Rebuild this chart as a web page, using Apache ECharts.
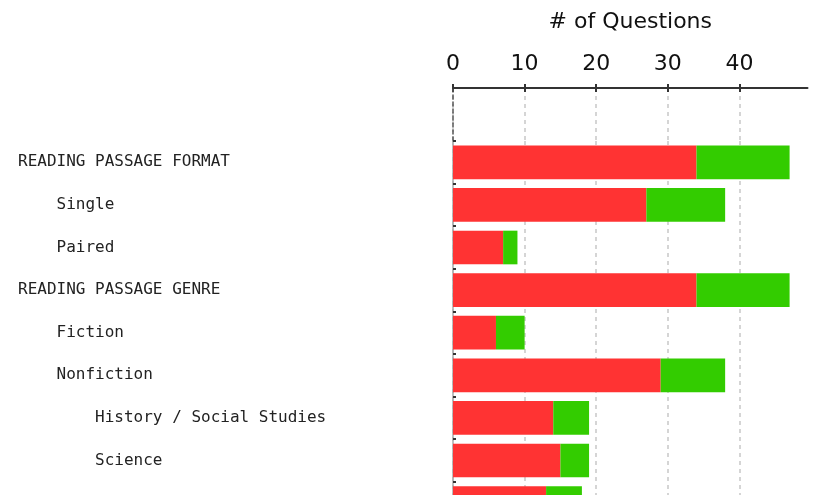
<!DOCTYPE html>
<html><head><meta charset="utf-8">
<script src="https://cdn.jsdelivr.net/npm/echarts@6/dist/echarts.min.js"></script>
<style>html,body{margin:0;padding:0;overflow:hidden;background:#fff}#c{width:821px;height:530px}</style>
</head><body><div id="c"></div>
<script>
const categories = ['READING PASSAGE FORMAT', '    Single', '    Paired', 'READING PASSAGE GENRE', '    Fiction', '    Nonfiction', '        History / Social Studies', '        Science', '        Humanities'];
const redValues = [34, 27, 7, 34, 6, 29, 14, 15, 13];
const greenValues = [13, 11, 2, 13, 4, 9, 5, 4, 5];
const xTicks = [0, 10, 20, 30, 40];
const axisMax = 49.5;
const axisTitle = '# of Questions';

const chart = echarts.init(document.getElementById('c'), null, {renderer: 'canvas'});
const splitStyle = {color: '#c8c8c8', type: [4, 4], width: 1.5};
chart.setOption({
  animation: false,
  grid: [
    {left: 453, right: 13.5, top: 88, height: 53},
    {left: 453, right: 13.5, top: 141, height: 383.4},
    {left: 453, right: 13.5, top: 84, height: 8}
  ],
  xAxis: [
    {
      gridIndex: 0, type: 'value', position: 'top', min: 0, max: axisMax, interval: 10,
      name: axisTitle, nameLocation: 'middle', nameGap: 55,
      nameTextStyle: {fontFamily: 'DejaVu Sans', fontSize: 22, color: '#111'},
      axisLine: {show: true, lineStyle: {color: '#333', width: 2}},
      axisTick: {show: false},
      axisLabel: {customValues: xTicks, margin: 13, fontFamily: 'DejaVu Sans', fontSize: 22, color: '#111'},
      splitLine: {show: true, showMaxLine: false, lineStyle: splitStyle}
    },
    {
      gridIndex: 1, type: 'value', position: 'top', min: 0, max: axisMax, interval: 10,
      axisLine: {show: false}, axisTick: {show: false}, axisLabel: {show: false},
      splitLine: {show: true, showMaxLine: false, lineStyle: splitStyle}
    },
    {
      gridIndex: 2, type: 'value', position: 'top', min: 0, max: axisMax, interval: 10,
      axisLine: {show: false}, axisTick: {show: false}, axisLabel: {show: false},
      splitLine: {show: true, showMaxLine: false, lineStyle: {color: '#333', width: 2}}
    }
  ],
  yAxis: [
    {
      gridIndex: 0, type: 'category', data: [''], inverse: true,
      axisLine: {show: true, lineStyle: {color: '#555', type: [4, 3], width: 1.5}},
      axisTick: {show: false}, axisLabel: {show: false}, splitLine: {show: false}
    },
    {
      gridIndex: 1, type: 'category', data: categories, inverse: true,
      axisLine: {show: true, lineStyle: {color: '#aaa', width: 1.5}},
      axisTick: {show: true, inside: true, length: 3, lineStyle: {color: '#333', width: 2}},
      axisLabel: {align: 'left', margin: 435, fontFamily: 'DejaVu Sans Mono', fontSize: 16, color: '#222'},
      splitLine: {show: false}
    },
    {
      gridIndex: 2, type: 'category', data: [''], show: false
    }
  ],
  series: [
    {type: 'bar', xAxisIndex: 1, yAxisIndex: 1, stack: 'q', data: redValues, barCategoryGap: '21%',
     itemStyle: {color: '#ff3333'}},
    {type: 'bar', xAxisIndex: 1, yAxisIndex: 1, stack: 'q', data: greenValues, barCategoryGap: '21%',
     itemStyle: {color: '#33cc00'}}
  ]
});
</script></body></html>
